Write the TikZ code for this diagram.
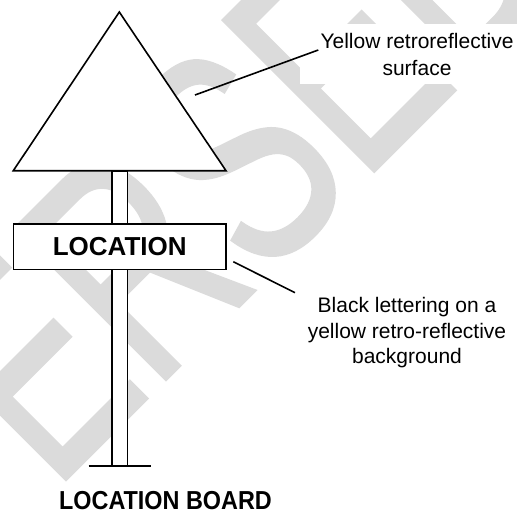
\documentclass[tikz,border=0pt]{standalone}
\usepackage{fontspec}
\setmainfont{Liberation Sans}
\newfontfamily\stampfont[FakeBold=1.2]{Liberation Sans}
\definecolor{wmark}{gray}{0.86}
\begin{document}
\begin{tikzpicture}[x=1pt,y=-1pt,font=\fontsize{21}{27}\selectfont,
  outline/.style={draw=black,line width=1.6pt,fill=white},
  leader/.style={draw=black,line width=1.6pt},
  note/.style={align=center,inner sep=0pt},
  boardtext/.style={font=\fontsize{26}{30}\selectfont\bfseries}]
\useasboundingbox (0,0) rectangle (517,515);
% watermark
\begin{scope}
\clip (0,0) rectangle (517,515);
\node[text=wmark,rotate=45,yscale=1.46,anchor=base west,inner sep=0pt,font=\stampfont\fontsize{212}{212}\selectfont] (stamp) at (-255,800) {SUPERSEDED};
\end{scope}
% post and sign
\draw[outline] (112,170.7) rectangle (127.3,466);
\coordinate (footl) at (88.7,466);
\coordinate (footr) at (150.7,466);
\draw[leader] (footl) -- (footr);
\coordinate (apex) at (119.3,12);
\coordinate (tril) at (13.3,170.7);
\coordinate (trir) at (226,170.7);
\draw[outline] (tril) -- (apex) -- (trir) -- cycle;
\node[outline,boardtext,minimum width=212.7pt,minimum height=45.3pt,inner sep=0pt] (board) at (119.7,246.7) {LOCATION};
% notes
\node[note,fill=white,minimum width=234pt,minimum height=60pt] (surf) at (417,54) {Yellow retroreflective\\surface};
\coordinate (surfpt) at (195,95);
\coordinate (surfend) at (318.3,50);
\draw[leader] (surfpt) -- (surfend);
\node[note,font=\fontsize{21}{25.5}\selectfont] (back) at (407,333) {Black lettering on a\\yellow retro-reflective\\background};
\coordinate (backpt) at (233.3,261.7);
\coordinate (backend) at (295,292.7);
\draw[leader] (backpt) -- (backend);
\node[boardtext,xscale=0.9,anchor=base] (title) at (165.5,509) {LOCATION BOARD};
\end{tikzpicture}
\end{document}
